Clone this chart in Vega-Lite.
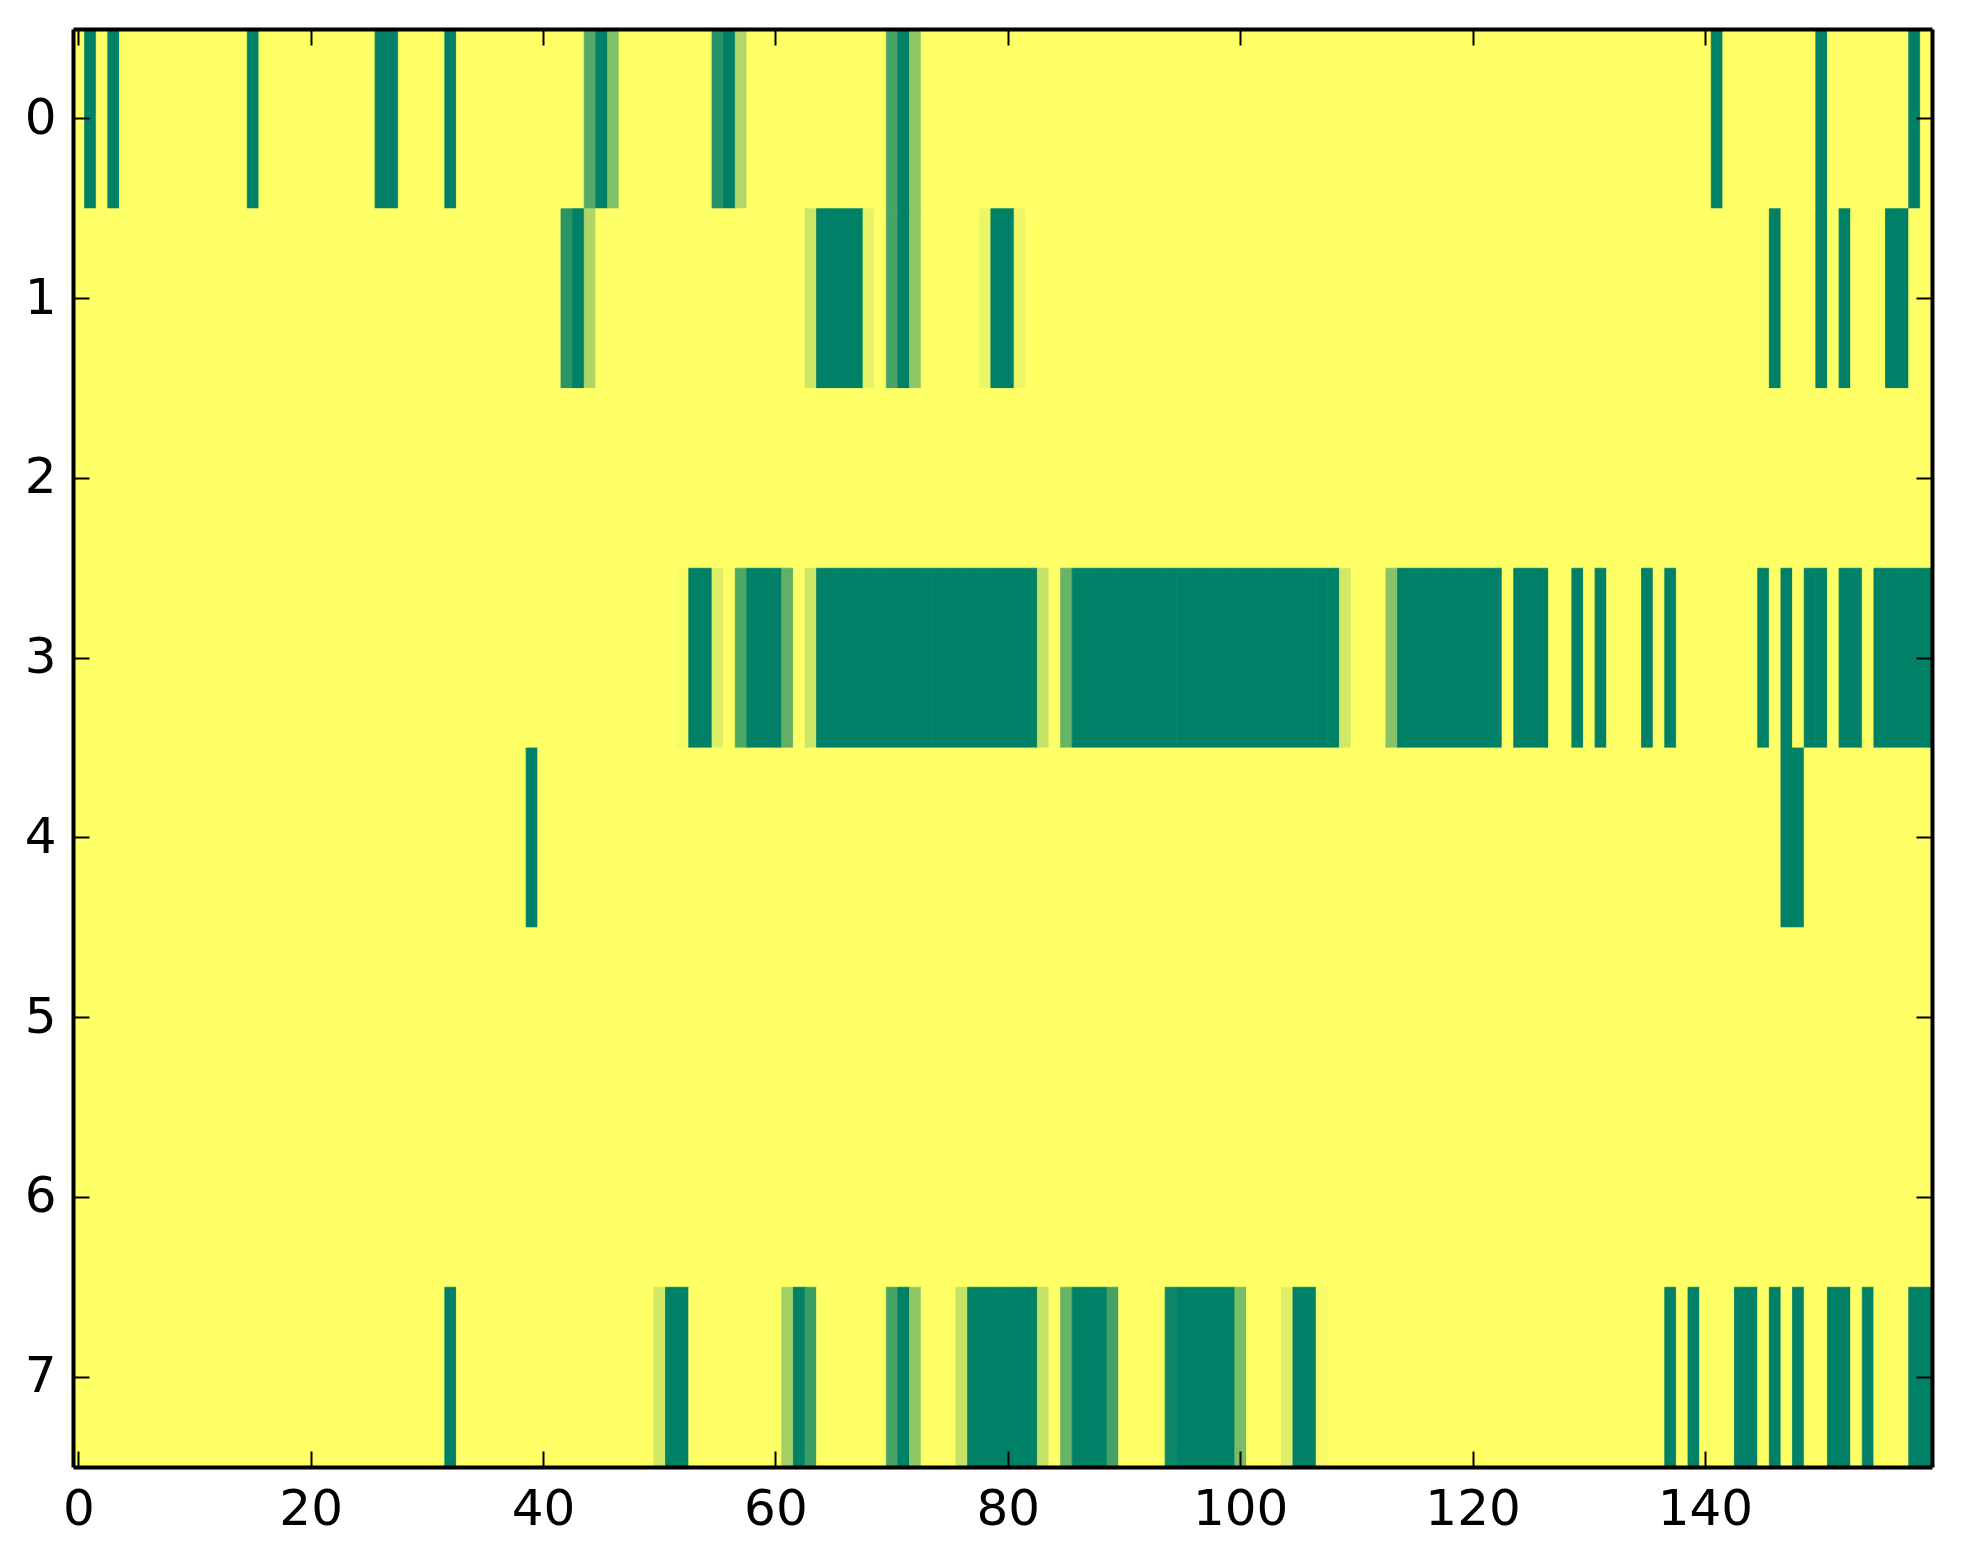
{
  "$schema": "https://vega.github.io/schema/vega-lite/v6.json",
  "width": 1859,
  "height": 1438,
  "autosize": {"type": "none"},
  "padding": {"left": 73, "top": 29, "right": 31, "bottom": 97},
  "background": "white",
  "config": {"view": {"stroke": null}},
  "data": {"values": [
    {"r": 0, "c": [0,1,2,3,4,5,6,7,8,9,10,11,12,13,14,15,16,17,18,19,20,21,22,23,24,25,26,27,28,29,30,31,32,33,34,35,36,37,38,39,40,41,42,43,44,45,46,47,48,49,50,51,52,53,54,55,56,57,58,59,60,61,62,63,64,65,66,67,68,69,70,71,72,73,74,75,76,77,78,79,80,81,82,83,84,85,86,87,88,89,90,91,92,93,94,95,96,97,98,99,100,101,102,103,104,105,106,107,108,109,110,111,112,113,114,115,116,117,118,119,120,121,122,123,124,125,126,127,128,129,130,131,132,133,134,135,136,137,138,139,140,141,142,143,144,145,146,147,148,149,150,151,152,153,154,155,156,157,158,159],
     "v": [1,0,1,0,1,1,1,1,1,1, 1,1,1,1,1,0,1,1,1,1, 1,1,1,1,1,1,0,0,1,1, 1,1,0,1,1,1,1,1,1,1, 1,1,1,1,0.33,0,0.5,1,1,1, 1,1,1,1,1,0.15,0,0.69,1,1, 1,1,1,1,1,1,1,1,1,1, 0.28,0,0.56,1,1,1,1,1,1,1, 1,1,1,1,1,1,1,1,1,1, 1,1,1,1,1,1,1,1,1,1, 1,1,1,1,1,1,1,1,1,1, 1,1,1,1,1,1,1,1,1,1, 1,1,1,1,1,1,1,1,1,1, 1,1,1,1,1,1,1,1,1,1, 1,0,1,1,1,1,1,1,1,1, 0,1,1,1,1,1,1,1,0,1]},
    {"r": 1, "c": [0,1,2,3,4,5,6,7,8,9,10,11,12,13,14,15,16,17,18,19,20,21,22,23,24,25,26,27,28,29,30,31,32,33,34,35,36,37,38,39,40,41,42,43,44,45,46,47,48,49,50,51,52,53,54,55,56,57,58,59,60,61,62,63,64,65,66,67,68,69,70,71,72,73,74,75,76,77,78,79,80,81,82,83,84,85,86,87,88,89,90,91,92,93,94,95,96,97,98,99,100,101,102,103,104,105,106,107,108,109,110,111,112,113,114,115,116,117,118,119,120,121,122,123,124,125,126,127,128,129,130,131,132,133,134,135,136,137,138,139,140,141,142,143,144,145,146,147,148,149,150,151,152,153,154,155,156,157,158,159],
     "v": [1,1,1,1,1,1,1,1,1,1, 1,1,1,1,1,1,1,1,1,1, 1,1,1,1,1,1,1,1,1,1, 1,1,1,1,1,1,1,1,1,1, 1,1,0.16,0,0.68,1,1,1,1,1, 1,1,1,1,1,1,1,1,1,1, 1,1,1,0.8,0,0,0,0,0.9,1, 0.28,0,0.56,1,1,1,1,1,0.93,0, 0,0.93,1,1,1,1,1,1,1,1, 1,1,1,1,1,1,1,1,1,1, 1,1,1,1,1,1,1,1,1,1, 1,1,1,1,1,1,1,1,1,1, 1,1,1,1,1,1,1,1,1,1, 1,1,1,1,1,1,1,1,1,1, 1,1,1,1,1,1,0,1,1,1, 0,1,0,1,1,1,0,0,1,1]},
    {"r": 2, "c": [0,1,2,3,4,5,6,7,8,9,10,11,12,13,14,15,16,17,18,19,20,21,22,23,24,25,26,27,28,29,30,31,32,33,34,35,36,37,38,39,40,41,42,43,44,45,46,47,48,49,50,51,52,53,54,55,56,57,58,59,60,61,62,63,64,65,66,67,68,69,70,71,72,73,74,75,76,77,78,79,80,81,82,83,84,85,86,87,88,89,90,91,92,93,94,95,96,97,98,99,100,101,102,103,104,105,106,107,108,109,110,111,112,113,114,115,116,117,118,119,120,121,122,123,124,125,126,127,128,129,130,131,132,133,134,135,136,137,138,139,140,141,142,143,144,145,146,147,148,149,150,151,152,153,154,155,156,157,158,159],
     "v": [1,1,1,1,1,1,1,1,1,1, 1,1,1,1,1,1,1,1,1,1, 1,1,1,1,1,1,1,1,1,1, 1,1,1,1,1,1,1,1,1,1, 1,1,1,1,1,1,1,1,1,1, 1,1,1,1,1,1,1,1,1,1, 1,1,1,1,1,1,1,1,1,1, 1,1,1,1,1,1,1,1,1,1, 1,1,1,1,1,1,1,1,1,1, 1,1,1,1,1,1,1,1,1,1, 1,1,1,1,1,1,1,1,1,1, 1,1,1,1,1,1,1,1,1,1, 1,1,1,1,1,1,1,1,1,1, 1,1,1,1,1,1,1,1,1,1, 1,1,1,1,1,1,1,1,1,1, 1,1,1,1,1,1,1,1,1,1]},
    {"r": 3, "c": [0,1,2,3,4,5,6,7,8,9,10,11,12,13,14,15,16,17,18,19,20,21,22,23,24,25,26,27,28,29,30,31,32,33,34,35,36,37,38,39,40,41,42,43,44,45,46,47,48,49,50,51,52,53,54,55,56,57,58,59,60,61,62,63,64,65,66,67,68,69,70,71,72,73,74,75,76,77,78,79,80,81,82,83,84,85,86,87,88,89,90,91,92,93,94,95,96,97,98,99,100,101,102,103,104,105,106,107,108,109,110,111,112,113,114,115,116,117,118,119,120,121,122,123,124,125,126,127,128,129,130,131,132,133,134,135,136,137,138,139,140,141,142,143,144,145,146,147,148,149,150,151,152,153,154,155,156,157,158,159],
     "v": [1,1,1,1,1,1,1,1,1,1, 1,1,1,1,1,1,1,1,1,1, 1,1,1,1,1,1,1,1,1,1, 1,1,1,1,1,1,1,1,1,1, 1,1,1,1,1,1,1,1,1,1, 1,1,0.97,0,0,0.87,1,0.31,0,0, 0,0.38,1,0.8,0,0,0,0,0,0, 0,0,0,0,0,0,0,0,0,0, 0,0,0,0.77,1,0.41,0,0,0,0, 0,0,0,0,0,0,0,0,0,0, 0,0,0,0,0,0,0,0,0,0.82, 1,1,1,0.53,0,0,0,0,0,0, 0,0,0,1,0,0,0,1,1,0, 1,0,1,1,1,0,1,0,1,1, 1,1,1,1,1,0,1,0,1,0, 0,1,0,0,1,0,0,0,0,0]},
    {"r": 4, "c": [0,1,2,3,4,5,6,7,8,9,10,11,12,13,14,15,16,17,18,19,20,21,22,23,24,25,26,27,28,29,30,31,32,33,34,35,36,37,38,39,40,41,42,43,44,45,46,47,48,49,50,51,52,53,54,55,56,57,58,59,60,61,62,63,64,65,66,67,68,69,70,71,72,73,74,75,76,77,78,79,80,81,82,83,84,85,86,87,88,89,90,91,92,93,94,95,96,97,98,99,100,101,102,103,104,105,106,107,108,109,110,111,112,113,114,115,116,117,118,119,120,121,122,123,124,125,126,127,128,129,130,131,132,133,134,135,136,137,138,139,140,141,142,143,144,145,146,147,148,149,150,151,152,153,154,155,156,157,158,159],
     "v": [1,1,1,1,1,1,1,1,1,1, 1,1,1,1,1,1,1,1,1,1, 1,1,1,1,1,1,1,1,1,1, 1,1,1,1,1,1,1,1,1,0, 1,1,1,1,1,1,1,1,1,1, 1,1,1,1,1,1,1,1,1,1, 1,1,1,1,1,1,1,1,1,1, 1,1,1,1,1,1,1,1,1,1, 1,1,1,1,1,1,1,1,1,1, 1,1,1,1,1,1,1,1,1,1, 1,1,1,1,1,1,1,1,1,1, 1,1,1,1,1,1,1,1,1,1, 1,1,1,1,1,1,1,1,1,1, 1,1,1,1,1,1,1,1,1,1, 1,1,1,1,1,1,1,0,0,1, 1,1,1,1,1,1,1,1,1,1]},
    {"r": 5, "c": [0,1,2,3,4,5,6,7,8,9,10,11,12,13,14,15,16,17,18,19,20,21,22,23,24,25,26,27,28,29,30,31,32,33,34,35,36,37,38,39,40,41,42,43,44,45,46,47,48,49,50,51,52,53,54,55,56,57,58,59,60,61,62,63,64,65,66,67,68,69,70,71,72,73,74,75,76,77,78,79,80,81,82,83,84,85,86,87,88,89,90,91,92,93,94,95,96,97,98,99,100,101,102,103,104,105,106,107,108,109,110,111,112,113,114,115,116,117,118,119,120,121,122,123,124,125,126,127,128,129,130,131,132,133,134,135,136,137,138,139,140,141,142,143,144,145,146,147,148,149,150,151,152,153,154,155,156,157,158,159],
     "v": [1,1,1,1,1,1,1,1,1,1, 1,1,1,1,1,1,1,1,1,1, 1,1,1,1,1,1,1,1,1,1, 1,1,1,1,1,1,1,1,1,1, 1,1,1,1,1,1,1,1,1,1, 1,1,1,1,1,1,1,1,1,1, 1,1,1,1,1,1,1,1,1,1, 1,1,1,1,1,1,1,1,1,1, 1,1,1,1,1,1,1,1,1,1, 1,1,1,1,1,1,1,1,1,1, 1,1,1,1,1,1,1,1,1,1, 1,1,1,1,1,1,1,1,1,1, 1,1,1,1,1,1,1,1,1,1, 1,1,1,1,1,1,1,1,1,1, 1,1,1,1,1,1,1,1,1,1, 1,1,1,1,1,1,1,1,1,1]},
    {"r": 6, "c": [0,1,2,3,4,5,6,7,8,9,10,11,12,13,14,15,16,17,18,19,20,21,22,23,24,25,26,27,28,29,30,31,32,33,34,35,36,37,38,39,40,41,42,43,44,45,46,47,48,49,50,51,52,53,54,55,56,57,58,59,60,61,62,63,64,65,66,67,68,69,70,71,72,73,74,75,76,77,78,79,80,81,82,83,84,85,86,87,88,89,90,91,92,93,94,95,96,97,98,99,100,101,102,103,104,105,106,107,108,109,110,111,112,113,114,115,116,117,118,119,120,121,122,123,124,125,126,127,128,129,130,131,132,133,134,135,136,137,138,139,140,141,142,143,144,145,146,147,148,149,150,151,152,153,154,155,156,157,158,159],
     "v": [1,1,1,1,1,1,1,1,1,1, 1,1,1,1,1,1,1,1,1,1, 1,1,1,1,1,1,1,1,1,1, 1,1,1,1,1,1,1,1,1,1, 1,1,1,1,1,1,1,1,1,1, 1,1,1,1,1,1,1,1,1,1, 1,1,1,1,1,1,1,1,1,1, 1,1,1,1,1,1,1,1,1,1, 1,1,1,1,1,1,1,1,1,1, 1,1,1,1,1,1,1,1,1,1, 1,1,1,1,1,1,1,1,1,1, 1,1,1,1,1,1,1,1,1,1, 1,1,1,1,1,1,1,1,1,1, 1,1,1,1,1,1,1,1,1,1, 1,1,1,1,1,1,1,1,1,1, 1,1,1,1,1,1,1,1,1,1]},
    {"r": 7, "c": [0,1,2,3,4,5,6,7,8,9,10,11,12,13,14,15,16,17,18,19,20,21,22,23,24,25,26,27,28,29,30,31,32,33,34,35,36,37,38,39,40,41,42,43,44,45,46,47,48,49,50,51,52,53,54,55,56,57,58,59,60,61,62,63,64,65,66,67,68,69,70,71,72,73,74,75,76,77,78,79,80,81,82,83,84,85,86,87,88,89,90,91,92,93,94,95,96,97,98,99,100,101,102,103,104,105,106,107,108,109,110,111,112,113,114,115,116,117,118,119,120,121,122,123,124,125,126,127,128,129,130,131,132,133,134,135,136,137,138,139,140,141,142,143,144,145,146,147,148,149,150,151,152,153,154,155,156,157,158,159],
     "v": [1,1,1,1,1,1,1,1,1,1, 1,1,1,1,1,1,1,1,1,1, 1,1,1,1,1,1,1,1,1,1, 1,1,0,1,1,1,1,1,1,1, 1,1,1,1,1,1,1,1,1,1, 0.82,0,0,1,1,1,1,1,1,1, 1,0.63,0,0.23,1,1,1,1,1,1, 0.28,0,0.56,1,1,1,0.77,0,0,0, 0,0,0,0.77,1,0.41,0,0,0,0.27, 1,1,1,1,0.05,0,0,0,0,0, 0.47,1,1,1,0.87,0,0,0.96,1,1, 1,1,1,1,1,1,1,1,1,1, 1,1,1,1,1,1,1,1,1,1, 1,1,1,1,1,1,1,0,1,0, 1,1,1,0,0,1,0,1,0,1, 1,0,0,1,0,1,1,1,0,0]}
  ]},
  "transform": [{"flatten": ["c", "v"]}],
  "layer": [
    {
      "mark": {"type": "rect", "strokeWidth": 0.8},
      "encoding": {
        "x": {"field": "c", "type": "ordinal", "scale": {"paddingInner": 0, "paddingOuter": 0},
              "axis": {"orient": "bottom", "values": [0,20,40,60,80,100,120,140], "labelAngle": 0, "labelFont": "DejaVu Sans", "labelFontSize": 50, "labelColor": "black", "labelPadding": 33, "labelBaseline": "top", "tickColor": "black", "tickWidth": 2, "tickSize": -16, "domainColor": "black", "domainWidth": 4, "title": null, "grid": false, "zindex": 2}},
        "y": {"field": "r", "type": "ordinal", "scale": {"paddingInner": 0, "paddingOuter": 0},
              "axis": {"orient": "left", "labelFont": "DejaVu Sans", "labelFontSize": 50, "labelColor": "black", "labelPadding": 33, "labelAngle": 0, "tickColor": "black", "tickWidth": 2, "tickSize": -16, "domainColor": "black", "domainWidth": 4, "title": null, "grid": false, "zindex": 2}},
        "fill": {"field": "v", "type": "quantitative", "scale": {"type": "linear", "domain": [0, 1], "range": ["#008066", "#ffff66"], "interpolate": "rgb"}, "legend": null},
        "stroke": {"field": "v", "type": "quantitative", "scale": {"type": "linear", "domain": [0, 1], "range": ["#008066", "#ffff66"], "interpolate": "rgb"}, "legend": null}
      }
    },
    {
      "mark": {"type": "rect", "opacity": 0},
      "encoding": {
        "x": {"field": "c", "type": "ordinal",
              "axis": {"orient": "top", "values": [0,20,40,60,80,100,120,140], "labels": false, "tickColor": "black", "tickWidth": 2, "tickSize": -16, "domainColor": "black", "domainWidth": 4, "title": null, "grid": false, "zindex": 2}},
        "y": {"field": "r", "type": "ordinal",
              "axis": {"orient": "right", "labels": false, "tickColor": "black", "tickWidth": 2, "tickSize": -16, "domainColor": "black", "domainWidth": 4, "title": null, "grid": false, "zindex": 2}}
      }
    }
  ],
  "resolve": {"axis": {"x": "independent", "y": "independent"}}
}
